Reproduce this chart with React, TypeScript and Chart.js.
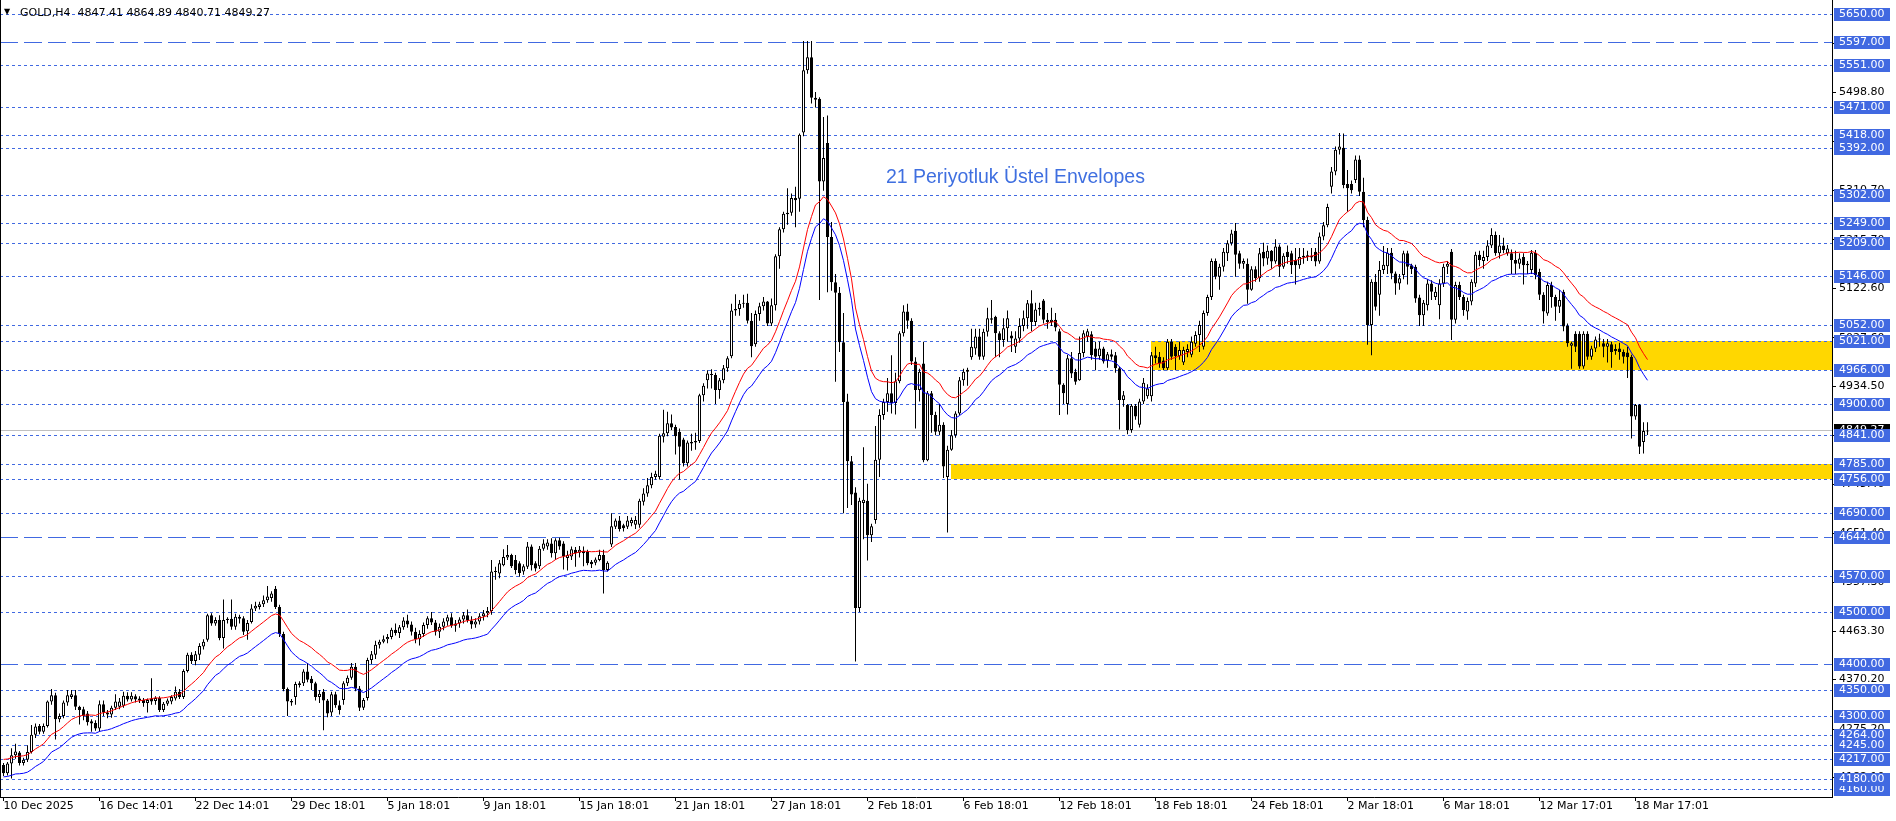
import React, { useEffect, useRef } from "react";
import { Chart, registerables } from "chart.js";

Chart.register(...registerables);

// ---------- DATA (GOLD, H4) ----------
const opens = [
  4206,4190,4209,4225,4230,4210,4216,4231,4264,4281,
  4270,4281,4328,4340,4294,4300,4326,4337,4340,4318,
  4313,4305,4290,4287,4276,4323,4307,4303,4316,4318,
  4320,4339,4332,4338,4334,4331,4325,4334,4329,4335,
  4312,4324,4328,4334,4347,4337,4387,4418,4406,4418,
  4434,4447,4494,4478,4485,4450,4485,4487,4472,4491,
  4488,4463,4481,4507,4510,4515,4523,4527,4545,4510,
  4458,4352,4329,4337,4360,4363,4386,4372,4363,4337,
  4347,4330,4307,4342,4321,4331,4363,4374,4395,4353,
  4316,4335,4408,4418,4437,4443,4448,4452,4466,4460,
  4471,4484,4476,4462,4448,4458,4475,4488,4480,4462,
  4472,4482,4490,4474,4478,4486,4494,4484,4476,4482,
  4492,4498,4502,4578,4574,4590,4605,4610,4600,4594,
  4578,4587,4626,4594,4588,4622,4626,4632,4613,4638,
  4632,4604,4607,4620,4614,4618,4616,4597,4595,4600,
  4610,4581,4630,4664,4676,4667,4664,4671,4668,4668,
  4712,4728,4744,4760,4760,4837,4844,4863,4856,4847,
  4832,4786,4824,4826,4829,4917,4946,4958,4956,4927,
  4946,4969,4992,5080,5083,5093,5095,5060,5015,5073,
  5088,5097,5055,5090,5184,5236,5265,5268,5296,5295,
  5422,5542,5567,5489,5487,5328,5402,5221,5134,5114,
  5019,4905,4790,4730,4508,4710,4714,4648,4677,4793,
  4879,4904,4921,4902,4944,5036,5078,5060,4982,4927,
  4978,4792,4921,4879,4847,4860,4760,4812,4840,4882,
  4946,4962,4990,5007,5030,4991,5039,5062,5068,5036,
  5023,5046,5032,5010,5026,5050,5065,5094,5058,5082,
  5099,5062,5058,5062,5040,4937,4900,4988,4962,4946,
  4998,5030,5034,5007,4992,5007,4984,4996,4994,4969,
  4908,4898,4850,4897,4860,4905,4915,4915,4994,4991,
  4984,4969,5020,5010,4992,4980,5000,4995,5016,5033,
  5010,5075,5106,5175,5145,5164,5190,5209,5233,5190,
  5170,5170,5120,5159,5142,5193,5180,5195,5174,5203,
  5164,5193,5190,5177,5167,5182,5186,5185,5193,5174,
  5222,5244,5318,5347,5389,5393,5323,5323,5331,5370,
  5308,5254,5052,5135,5110,5158,5165,5191,5151,5132,
  5148,5190,5167,5164,5105,5071,5090,5132,5106,5090,
  5132,5164,5193,5062,5129,5106,5078,5097,5132,5187,
  5175,5183,5205,5225,5190,5205,5190,5190,5177,5170,
  5183,5167,5158,5191,5154,5110,5074,5129,5106,5087,
  5116,5050,5012,5035,5035,4972,5035,4991,5007,5024,
  5017,5010,5015,5002,5007,5000,4999,4991,4876,4898,
  4827,4847.41,
];

const highs = [
  4210,4212,4238,4247,4233,4220,4244,4283,4286,4285,
  4286,4330,4352,4345,4305,4330,4350,4350,4350,4320,
  4318,4310,4294,4292,4330,4330,4312,4320,4342,4335,
  4347,4346,4346,4342,4338,4335,4334,4373,4338,4338,
  4327,4334,4340,4357,4352,4390,4422,4423,4425,4440,
  4448,4497,4498,4490,4494,4524,4490,4524,4497,4495,
  4492,4485,4515,4520,4520,4532,4550,4540,4550,4514,
  4462,4355,4333,4366,4367,4390,4402,4377,4366,4350,
  4352,4333,4347,4347,4330,4367,4378,4402,4402,4358,
  4335,4412,4425,4445,4447,4455,4458,4470,4478,4475,
  4490,4495,4482,4470,4465,4480,4492,4500,4485,4478,
  4488,4495,4498,4485,4490,4500,4505,4492,4488,4498,
  4504,4510,4600,4587,4600,4621,4629,4612,4610,4598,
  4592,4635,4630,4598,4627,4640,4640,4642,4642,4643,
  4636,4618,4626,4625,4627,4626,4620,4600,4605,4620,
  4620,4598,4690,4680,4685,4670,4685,4682,4685,4718,
  4738,4758,4768,4772,4843,4889,4885,4880,4860,4853,
  4835,4830,4843,4845,4920,4940,4965,4967,4960,4950,
  4975,4992,5093,5111,5100,5110,5112,5075,5080,5095,
  5106,5098,5103,5188,5240,5270,5315,5305,5318,5420,
  5598,5598,5598,5500,5490,5452,5455,5250,5150,5125,
  5075,4920,4800,4740,4720,4817,4747,4670,4858,4890,
  4910,4950,4994,4960,5040,5090,5093,5065,4990,4968,
  5020,4925,4925,4885,4900,4865,4820,4850,4886,4952,
  4968,4970,5045,5045,5045,5045,5085,5100,5070,5040,
  5065,5080,5040,5040,5065,5080,5100,5119,5095,5095,
  5102,5075,5085,5075,5045,4940,4995,5000,4968,5030,
  5042,5045,5040,5020,5020,5010,5000,5005,5000,4972,
  4925,4900,4900,4900,4910,4950,4938,5000,5010,5000,
  4990,5025,5025,5015,5020,5010,5015,5030,5040,5060,
  5080,5110,5180,5180,5170,5200,5215,5235,5248,5195,
  5180,5180,5165,5165,5200,5210,5205,5196,5217,5207,
  5190,5205,5195,5200,5200,5200,5195,5200,5200,5230,
  5250,5285,5356,5395,5421,5420,5350,5330,5378,5378,
  5335,5260,5140,5150,5175,5204,5200,5200,5155,5150,
  5195,5195,5170,5168,5110,5100,5140,5138,5125,5140,
  5170,5175,5198,5135,5135,5110,5105,5140,5193,5195,
  5195,5215,5238,5232,5225,5220,5206,5197,5195,5190,
  5190,5175,5196,5196,5160,5115,5135,5135,5110,5120,
  5120,5055,5020,5040,5040,5040,5040,5012,5030,5035,
  5025,5025,5020,5015,5018,5005,5010,4995,4900,4900,
  4865,4864.89,
];

const lows = [
  4185,4186,4180,4218,4205,4205,4212,4228,4258,4265,
  4266,4278,4322,4255,4288,4296,4320,4333,4312,4284,
  4292,4282,4270,4272,4270,4300,4296,4297,4312,4313,
  4316,4328,4328,4326,4325,4318,4307,4322,4322,4308,
  4308,4320,4323,4330,4333,4333,4384,4400,4398,4408,
  4428,4443,4474,4474,4446,4430,4478,4466,4466,4478,
  4456,4447,4478,4502,4505,4510,4518,4520,4506,4452,
  4348,4300,4320,4322,4355,4358,4365,4350,4330,4325,
  4273,4298,4300,4316,4303,4322,4358,4370,4348,4310,
  4312,4330,4400,4410,4430,4440,4440,4448,4455,4450,
  4466,4470,4455,4440,4436,4452,4468,4475,4455,4450,
  4465,4474,4470,4462,4470,4478,4480,4468,4470,4476,
  4484,4490,4495,4562,4565,4588,4600,4585,4573,4568,
  4572,4583,4580,4578,4583,4618,4620,4605,4600,4620,
  4582,4580,4600,4587,4605,4588,4590,4585,4590,4598,
  4536,4578,4625,4660,4655,4655,4660,4665,4660,4662,
  4705,4722,4738,4755,4755,4826,4838,4850,4803,4755,
  4780,4780,4810,4812,4825,4905,4930,4930,4900,4910,
  4940,4962,4988,5070,5070,5085,5055,4990,5010,5060,
  5080,5050,5050,5080,5160,5230,5245,5262,5240,5270,
  5415,5535,5478,5470,5100,5310,5115,5118,4943,5000,
  4690,4700,4706,4405,4500,4640,4599,4635,4670,4760,
  4870,4885,4882,4880,4940,5030,5045,4975,4853,4905,
  4788,4790,4845,4840,4840,4758,4653,4810,4835,4878,
  4935,4935,4985,4995,4985,4985,5030,5055,4990,4990,
  5010,5020,5000,4998,5018,5040,5045,5040,5050,5070,
  5055,5045,5050,5040,4879,4900,4880,4950,4937,4945,
  4990,5020,4985,4965,4985,4978,4970,4985,4960,4851,
  4895,4842,4845,4870,4855,4900,4910,4905,4978,4970,
  4965,4965,4985,4965,4985,4975,4990,4990,5010,5000,
  5005,5070,5100,5140,5120,5155,5175,5205,5145,5160,
  5160,5093,5118,5135,5135,5165,5168,5160,5170,5145,
  5160,5170,5150,5130,5160,5170,5175,5175,5165,5170,
  5215,5240,5305,5340,5380,5315,5270,5305,5325,5300,
  5240,5014,4994,5080,5070,5150,5150,5140,5110,5120,
  5140,5130,5150,5095,5050,5050,5080,5100,5100,5063,
  5125,5150,5023,5055,5100,5070,5062,5090,5125,5165,
  5160,5175,5200,5185,5180,5190,5185,5150,5150,5160,
  5130,5150,5150,5140,5100,5055,5070,5085,5060,5075,
  5040,5010,4968,5000,4968,4968,4985,4985,5000,5010,
  4990,4980,4970,4995,4985,4978,4950,4834,4870,4804,
  4805,4840.71,
];

const closes = [
  4190,4209,4225,4232,4210,4216,4231,4264,4280,4270,
  4281,4328,4340,4294,4300,4326,4340,4342,4318,4312,
  4300,4288,4286,4276,4323,4307,4303,4316,4328,4328,
  4339,4332,4339,4332,4330,4325,4331,4328,4335,4312,
  4324,4330,4337,4347,4337,4387,4418,4406,4419,4435,
  4443,4494,4478,4485,4450,4485,4487,4472,4491,4487,
  4462,4479,4507,4512,4515,4523,4530,4536,4510,4458,
  4352,4328,4326,4362,4363,4386,4370,4363,4337,4343,
  4330,4305,4342,4321,4312,4363,4374,4395,4353,4316,
  4331,4408,4419,4437,4443,4448,4452,4466,4460,4471,
  4484,4476,4462,4448,4458,4475,4488,4480,4462,4472,
  4482,4490,4474,4478,4486,4494,4484,4476,4482,4492,
  4498,4502,4578,4577,4594,4606,4610,4588,4581,4575,
  4588,4626,4590,4584,4622,4632,4634,4613,4638,4626,
  4607,4610,4621,4613,4620,4613,4594,4592,4601,4610,
  4581,4595,4665,4676,4660,4661,4676,4677,4677,4714,
  4728,4744,4760,4766,4839,4844,4863,4855,4838,4818,
  4786,4826,4827,4829,4917,4935,4959,4956,4927,4946,
  4969,4988,5080,5083,5093,5095,5060,5011,5073,5088,
  5097,5055,5090,5184,5236,5266,5268,5296,5292,5418,
  5542,5567,5489,5485,5328,5373,5221,5134,5114,5019,
  4904,4790,4726,4508,4714,4716,4648,4665,4793,4879,
  4904,4921,4902,4944,5036,5078,5060,4982,4927,4962,
  4792,4921,4879,4847,4860,4780,4812,4840,4882,4946,
  4962,4966,5010,5030,4991,5039,5065,5065,5036,5023,
  5046,5065,5026,5026,5050,5065,5094,5058,5082,5085,
  5062,5058,5062,5047,4937,4921,4988,4959,4943,4998,
  5036,5040,4994,4991,5007,4982,4996,4991,4969,4908,
  4917,4850,4897,4876,4905,4941,4930,4994,4988,4978,
  4969,5020,4991,4992,5004,5004,5006,5020,5033,5052,
  5075,5106,5175,5145,5164,5193,5209,5228,5187,5170,
  5175,5120,5159,5142,5190,5180,5195,5174,5203,5164,
  5185,5183,5167,5167,5183,5185,5183,5182,5174,5222,
  5244,5279,5347,5389,5395,5321,5315,5311,5370,5308,
  5254,5052,5135,5087,5158,5168,5191,5151,5132,5142,
  5190,5164,5159,5103,5071,5095,5132,5116,5116,5132,
  5164,5170,5062,5129,5106,5081,5098,5135,5187,5177,
  5183,5205,5225,5190,5205,5196,5199,5177,5170,5180,
  5167,5170,5191,5148,5110,5078,5129,5106,5087,5100,
  5049,5017,5017,5010,4972,5035,4991,5007,5024,5026,
  5010,5017,5000,5006,5000,4991,4990,4876,4898,4818,
  4848,4849.27,
];

const dateLabels = [
  "10 Dec 2025", "16 Dec 14:01", "22 Dec 14:01", "29 Dec 18:01", "5 Jan 18:01",
  "9 Jan 18:01", "15 Jan 18:01", "21 Jan 18:01", "27 Jan 18:01", "2 Feb 18:01",
  "6 Feb 18:01", "12 Feb 18:01", "18 Feb 18:01", "24 Feb 18:01", "2 Mar 18:01",
  "6 Mar 18:01", "12 Mar 17:01", "18 Mar 17:01",
];
const dateBars = [0, 24, 48, 72, 96, 120, 144, 168, 192, 216, 240, 264, 288, 312, 336, 360, 384, 408];

const priceTicks = [
  5592.9, 5498.8, 5404.7, 5310.7, 5215.7, 5122.6, 5027.6, 4934.5,
  4840.4, 4745.4, 4651.4, 4557.3, 4463.3, 4370.2, 4275.2, 4182.1,
];

const levelPrices = [
  5650, 5597, 5551, 5471, 5418, 5392, 5302, 5249, 5209, 5146, 5052, 5021, 4966,
  4900, 4841, 4785, 4756, 4690, 4644, 4570, 4500, 4400, 4350, 4300, 4264, 4245,
  4217, 4160, 4180,
];
const longDashLevels = [5597, 4644, 4400];

const zoneStartBars = [287, 237];
const zoneTops = [5021, 4785];
const zoneBottoms = [4966, 4756];

const bidPrice = 4849.27;
const envPeriod = 21;
const envDeviationPct = 0.4;
const envStart = 4201;

const headerText = "GOLD,H4  4847.41 4864.89 4840.71 4849.27";
const noteText = "21 Periyotluk Üstel Envelopes";
const noteBar = 220.6;
const notePrice = 5335;

// ---------- LAYOUT ----------
const W = 1896;
const H = 821;
const PLOT_RIGHT = 1832;
const PLOT_BOTTOM = 797;
const Y_MIN = 4144.5;
const Y_MAX = 5676.9;
const X_MIN = -0.875;
const X_MAX = 457.125;
const LEVEL_COLOR = "#4169E1";
const FONT = '"DejaVu Sans"';

function emaSeries(values: number[], period: number, seed: number): number[] {
  const k = 2 / (period + 1);
  let e = seed;
  return values.map((v) => {
    e = e + k * (v - e);
    return e;
  });
}

const overlayPlugin = {
  id: "mt4Overlay",
  beforeDatasetsDraw(chart: any) {
    const { ctx, chartArea: a, scales } = chart;
    const xs = scales.x;
    const ys = scales.y;
    ctx.save();
    ctx.beginPath();
    ctx.rect(a.left, a.top, a.right - a.left, a.bottom - a.top);
    ctx.clip();
    // zones
    ctx.fillStyle = "#FFD700";
    zoneStartBars.forEach((b, k) => {
      const x0 = Math.floor(xs.getPixelForValue(b));
      const y0 = Math.round(ys.getPixelForValue(zoneTops[k]));
      const y1 = Math.round(ys.getPixelForValue(zoneBottoms[k]));
      ctx.fillRect(x0, y0, a.right - x0, y1 - y0);
    });
    // level lines
    ctx.lineWidth = 1;
    ctx.strokeStyle = LEVEL_COLOR;
    levelPrices.forEach((p) => {
      const py = Math.round(ys.getPixelForValue(p)) + 0.5;
      ctx.setLineDash(longDashLevels.includes(p) ? [18, 6] : [3, 3]);
      ctx.beginPath();
      ctx.moveTo(a.left, py);
      ctx.lineTo(a.right, py);
      ctx.stroke();
    });
    // bid line
    ctx.setLineDash([]);
    ctx.strokeStyle = "#C0C0C0";
    const by = Math.round(ys.getPixelForValue(bidPrice)) + 0.5;
    ctx.beginPath();
    ctx.moveTo(a.left, by);
    ctx.lineTo(a.right, by);
    ctx.stroke();
    ctx.restore();
  },
  afterDraw(chart: any) {
    const { ctx, chartArea: a, scales } = chart;
    const xs = scales.x;
    const ys = scales.y;
    ctx.save();
    // left frame
    ctx.fillStyle = "#000";
    ctx.fillRect(a.left, a.top, 1, a.bottom - a.top);
    // header
    ctx.textBaseline = "middle";
    ctx.textAlign = "left";
    ctx.font = `8px ${FONT}`;
    ctx.fillText("▼", 4, 12);
    ctx.font = `11px ${FONT}`;
    ctx.fillText(headerText, 20, 13);
    // note
    ctx.font = '19.5px "Liberation Sans"';
    ctx.fillStyle = "#3F6FE0";
    ctx.fillText(noteText, xs.getPixelForValue(noteBar), ys.getPixelForValue(notePrice));
    // price labels
    const bx = a.right + 2;
    const bw = 56;
    ctx.font = `11px ${FONT}`;
    const drawBox = (p: number, bg: string) => {
      const py = Math.round(ys.getPixelForValue(p));
      ctx.fillStyle = bg;
      ctx.fillRect(bx, py - 6, bw, 13);
      ctx.fillStyle = "#FFFFFF";
      ctx.fillText(p.toFixed(2), bx + 5, py + 0.5);
    };
    drawBox(bidPrice, "#000000");
    levelPrices.forEach((p) => drawBox(p, LEVEL_COLOR));
    ctx.restore();
  },
};

export default function App() {
  const ref = useRef<HTMLCanvasElement | null>(null);

  useEffect(() => {
    document.body.style.margin = "0";
    const canvas = ref.current;
    if (!canvas) return;

    const mid = emaSeries(closes, envPeriod, envStart);
    const upper = mid.map((v, i) => ({ x: i, y: v * (1 + envDeviationPct / 100) }));
    const lower = mid.map((v, i) => ({ x: i, y: v * (1 - envDeviationPct / 100) }));
    const wickData = closes.map((_, i) => ({ x: i, y: [lows[i], highs[i]] }));
    const bodyData = closes.map((c, i) => ({
      x: i,
      y: [Math.min(opens[i], c), Math.max(opens[i], c)],
    }));
    const bodyColors = closes.map((c, i) => (c >= opens[i] ? "#FFFFFF" : "#000000"));

    const chart = new Chart(canvas, {
      type: "bar",
      data: {
        datasets: [
          {
            type: "line",
            data: upper,
            borderColor: "#FF0000",
            borderWidth: 1,
            pointRadius: 0,
            tension: 0,
            order: 0,
          } as any,
          {
            type: "line",
            data: lower,
            borderColor: "#0000FF",
            borderWidth: 1,
            pointRadius: 0,
            tension: 0,
            order: 0,
          } as any,
          {
            type: "bar",
            data: bodyData,
            backgroundColor: bodyColors,
            borderColor: "#000000",
            borderWidth: 1,
            borderSkipped: false,
            barThickness: 3,
            grouped: false,
            inflateAmount: 0,
            minBarLength: 1,
            order: 1,
          } as any,
          {
            type: "bar",
            data: wickData,
            backgroundColor: "#000000",
            borderWidth: 0,
            barThickness: 1,
            grouped: false,
            inflateAmount: 0,
            order: 2,
          } as any,
        ],
      },
      options: {
        responsive: false,
        animation: false,
        devicePixelRatio: 1,
        events: [],
        layout: { padding: 0 },
        plugins: { legend: { display: false }, tooltip: { enabled: false } },
        scales: {
          x: {
            type: "linear",
            position: "bottom",
            min: X_MIN,
            max: X_MAX,
            offset: false,
            bounds: "data",
            grid: {
              display: true,
              drawOnChartArea: false,
              drawTicks: true,
              tickLength: 4,
              color: "#000000",
              offset: false,
            },
            border: { display: true, color: "#000000", width: 1 },
            ticks: {
              autoSkip: false,
              maxRotation: 0,
              minRotation: 0,
              align: "start",
              padding: 0,
              color: "#000000",
              font: { family: "DejaVu Sans", size: 11, lineHeight: 1 },
              callback: (v: any) => {
                const k = dateBars.indexOf(Number(v));
                return k >= 0 ? dateLabels[k] : "";
              },
            },
            afterBuildTicks: (s: any) => {
              s.ticks = dateBars.map((v) => ({ value: v }));
            },
            afterFit: (s: any) => {
              s.height = H - PLOT_BOTTOM;
              s.paddingLeft = 0;
              s.paddingRight = 0;
            },
          } as any,
          y: {
            type: "linear",
            position: "right",
            min: Y_MIN,
            max: Y_MAX,
            bounds: "data",
            grid: {
              display: true,
              drawOnChartArea: false,
              drawTicks: true,
              tickLength: 4,
              color: "#000000",
            },
            border: { display: true, color: "#000000", width: 1 },
            ticks: {
              autoSkip: false,
              padding: 3,
              color: "#000000",
              font: { family: "DejaVu Sans", size: 11, lineHeight: 1 },
              callback: (v: any) => Number(v).toFixed(2),
            },
            afterBuildTicks: (s: any) => {
              s.ticks = priceTicks.map((v) => ({ value: v }));
            },
            afterFit: (s: any) => {
              s.width = W - PLOT_RIGHT;
              s.paddingTop = 0;
              s.paddingBottom = 0;
            },
          } as any,
        },
      } as any,
      plugins: [overlayPlugin],
    });

    return () => {
      chart.destroy();
    };
  }, []);

  return (
    <canvas
      ref={ref}
      width={W}
      height={H}
      style={{ display: "block", width: W + "px", height: H + "px" }}
    />
  );
}
